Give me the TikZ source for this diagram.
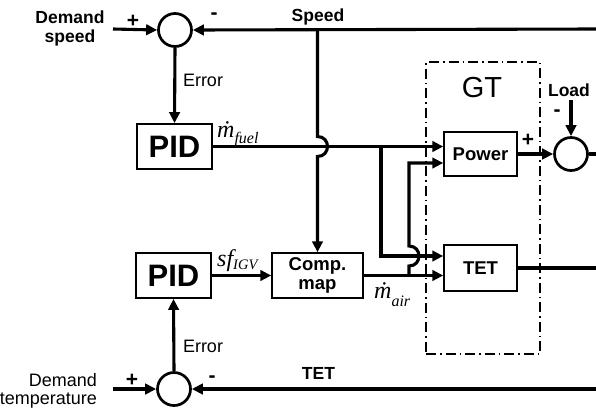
\documentclass[tikz,border=0pt]{standalone}
\usepackage{fontspec}
\setmainfont{Liberation Sans}
\newfontfamily\tms{Liberation Serif}
\usetikzlibrary{arrows.meta}
\begin{document}
\begin{tikzpicture}[x=1pt,y=-1pt,
  blk/.style={draw, line width=1.8pt, minimum width=75pt, minimum height=45pt, inner sep=0pt, font=\bfseries\fontsize{31}{31}\selectfont},
  gtblk/.style={draw, line width=1.5pt, minimum width=73pt, minimum height=44pt, inner sep=0pt, font=\bfseries\fontsize{18.5}{19.5}\selectfont},
  sumc/.style={circle, draw, line width=2.7pt, minimum size=33pt, inner sep=0pt},
  lbl/.style={font=\bfseries\fontsize{17.5}{19}\selectfont, inner sep=0pt},
  rlbl/.style={font=\fontsize{18}{18.5}\selectfont, inner sep=0pt},
  sgn/.style={font=\bfseries\fontsize{21}{21}\selectfont, inner sep=0pt},
  sig/.style={line width=3.1pt},
  arr/.style={sig, -{Triangle[length=11pt,width=10.5pt]}},
  gtframe/.style={draw, line width=1.4pt, dash pattern=on 10pt off 4pt on 1.5pt off 4pt, minimum width=114pt, minimum height=292pt, inner sep=0pt},
  mathlbl/.style={anchor=base west, inner sep=0pt, font=\tms\itshape\fontsize{24}{24}\selectfont}
]
\useasboundingbox (0,0) rectangle (596,408);
\fill[white] (0,0) rectangle (596,408);

% GT frame
\node[gtframe] (gt) at (483,208) {};
\node[font=\fontsize{29}{29}\selectfont, inner sep=0pt] (gtl) at (482,88) {GT};

% sum junctions
\node[sumc] (s1) at (175,30) {};
\node[sumc] (s2) at (174,389) {};
\node[sumc] (s3) at (571,154) {};

% blocks
\node[blk] (pid1) at (174.5,146.5) {PID};
\node[blk] (pid2) at (173.5,275.5) {PID};
\node[gtblk, minimum width=91pt, minimum height=45pt, align=center] (cmap) at (317.5,275.5) {Comp.\\map};
\node[gtblk] (pow) at (480.5,154) {Power};
\node[gtblk, minimum height=46pt] (tet) at (480.5,268) {TET};

% labels
\node[lbl, align=center] (ds) at (70,28) {Demand\\speed};
\node[rlbl, align=right, anchor=east] (dt) at (97,391) {Demand\\temperature};
\node[lbl] (spl) at (318,17) {Speed};
\node[lbl] (tetl) at (318.5,373) {TET};
\node[lbl] (loadl) at (569,90) {Load};
\node[rlbl] (err1) at (203,80) {Error};
\node[rlbl] (err2) at (203,346) {Error};
\node[sgn] (p1) at (133,21) {+};
\node[sgn] (m1) at (214,16) {-};
\node[sgn] (p2) at (132,380) {+};
\node[sgn] (m2) at (212,379) {-};
\node[sgn] (p3) at (528,140) {+};
\node[sgn] (m3) at (557,113) {-};
\node[mathlbl] (mf) at (217,137) {\.{m}\raisebox{-6pt}{\fontsize{16}{16}\selectfont fuel}};
\node[mathlbl] (sf) at (217,266) {sf\raisebox{-3pt}{\fontsize{14.5}{14.5}\selectfont IGV}};
\node[mathlbl] (ma) at (374,298) {\.{m}\raisebox{-8pt}{\fontsize{16}{16}\selectfont air}};

% coordinates
\coordinate (dsin) at (113,29);
\coordinate (spR) at (596,29);
\coordinate (jA) at (317.5,29);
\coordinate (b1) at (381,146.5);
\coordinate (b1d) at (381,256);
\coordinate (b2) at (409,275.5);
\coordinate (b2u) at (409,163);
\coordinate (dtin) at (113,389);
\coordinate (tetR) at (596,389);
\coordinate (tetout) at (596,268);
\coordinate (ld) at (571,100);
\coordinate (s3R) at (596,154);

% connectors
\draw[arr] (dsin) -- (s1.west);
\draw[arr] (spR) -- (s1.east);
\draw[arr] (s1.south) -- (pid1.north);
\draw[arr] (jA) -- (317.5,136.5) .. controls (330.8,136.5) and (330.8,156.5) .. (317.5,156.5) -- (cmap.north);
\draw[arr] (pid1.east) -- (pid1.east -| pow.west);
\draw[arr] (b1) -- (b1d) -- (b1d -| tet.west);
\draw[arr] (pid2.east) -- (cmap.west);
\draw[arr] (cmap.east) -- (cmap.east -| tet.west);
\draw[arr] (b2) -- (409,266) .. controls (422.3,266) and (422.3,246) .. (409,246) -- (b2u) -- (b2u -| pow.west);
\draw[arr] (s2.north) -- (pid2.south);
\draw[arr] (dtin) -- (s2.west);
\draw[arr] (tetR) -- (s2.east);
\draw[sig] (tet.east) -- (tetout);
\draw[arr] (pow.east) -- (s3.west);
\draw[arr] (ld) -- (s3.north);
\draw[sig] (s3.east) -- (s3R);
\end{tikzpicture}
\end{document}
